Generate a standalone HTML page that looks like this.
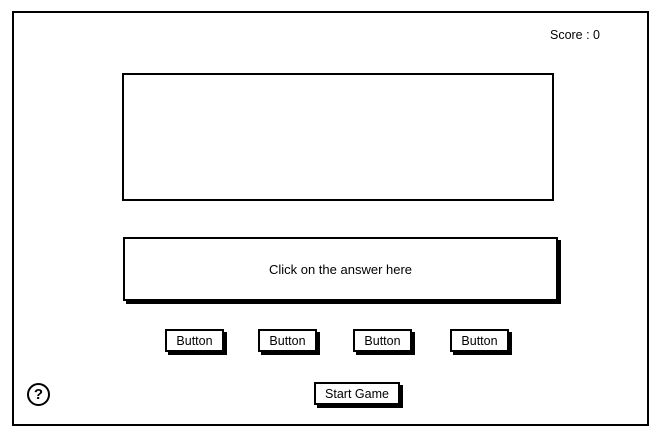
<!DOCTYPE html>
<html><head><style>
body{margin:0;width:660px;height:438px;background:#fff;position:relative;font-family:"Liberation Sans",sans-serif;font-size:12px;color:#000;overflow:hidden}
.b{position:absolute;box-sizing:border-box;border:2px solid #000;background:#fff}
.s{box-shadow:3px 3px 0 #000}
.t{position:absolute;display:flex;align-items:center;justify-content:center}
</style></head><body>
<div class="b" style="left:12px;top:11px;width:637px;height:415px"></div>
<div class="t" style="left:538px;top:27px;width:74px;height:16px;font-size:12.5px">Score : 0</div>
<div class="b" style="left:122px;top:73px;width:432px;height:128px"></div>
<div class="b s t" style="left:123px;top:237px;width:435px;height:64px;font-size:13px">Click on the answer here</div>
<div class="b s t" style="left:165px;top:329px;width:59px;height:23px;font-size:12.5px">Button</div>
<div class="b s t" style="left:258px;top:329px;width:59px;height:23px;font-size:12.5px">Button</div>
<div class="b s t" style="left:353px;top:329px;width:59px;height:23px;font-size:12.5px">Button</div>
<div class="b s t" style="left:450px;top:329px;width:59px;height:23px;font-size:12.5px">Button</div>
<div class="b s t" style="left:314px;top:382px;width:86px;height:23px;font-size:12.5px">Start Game</div>
<div class="t" style="left:27px;top:383px;width:19px;height:19px;border:2px solid #000;border-radius:50%;font-weight:bold;font-size:15px">?</div>
</body></html>
